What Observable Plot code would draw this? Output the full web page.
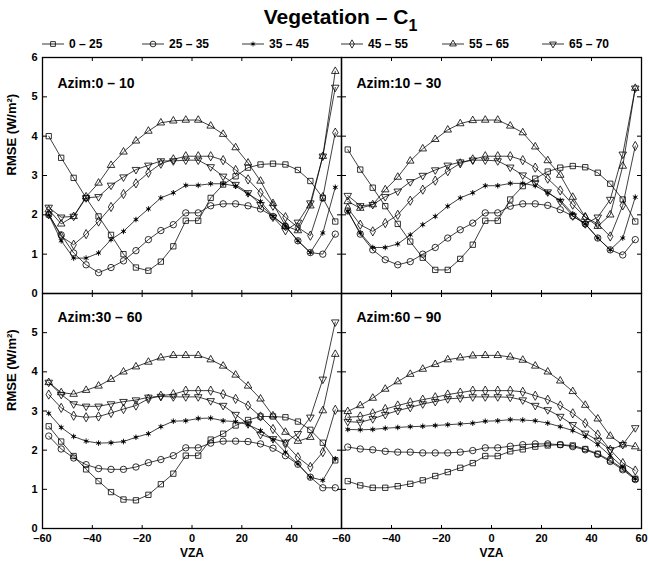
<!DOCTYPE html>
<html><head><meta charset="utf-8">
<script src="https://cdn.jsdelivr.net/npm/d3@7"></script>
<script src="https://cdn.jsdelivr.net/npm/@observablehq/plot@0.6"></script>
<style>
body{margin:0;background:#fff;font-family:"Liberation Sans",Arial,Helvetica,sans-serif;}
#chart{position:relative;width:649px;height:561px;overflow:hidden;}
#title{position:absolute;left:16px;width:649px;top:5px;text-align:center;font-weight:bold;font-size:21px;line-height:24px;}
#title sub{font-size:16px;vertical-align:-7px;line-height:0;}
.leg{position:absolute;top:37px;height:14px;display:flex;align-items:center;font-weight:bold;font-size:12px;white-space:nowrap;}
.leg svg{display:block;margin-right:5px;overflow:visible;}
.pan{position:absolute;}
.pan svg{overflow:visible;}
</style></head>
<body><div id="chart"><div id="title">Vegetation – C<sub>1</sub></div></div>
<script>
// ---- data ----
const vza = [-57.5,-52.5,-47.5,-42.5,-37.5,-32.5,-27.5,-22.5,-17.5,-12.5,-7.5,-2.5,2.5,7.5,12.5,17.5,22.5,27.5,32.5,37.5,42.5,47.5,52.5,57.5];
const seriesLabels = ["0 – 25","25 – 35","35 – 45","45 – 55","55 – 65","65 – 70"];
const panelLabels = ["Azim:0 – 10","Azim:10 – 30","Azim:30 – 60","Azim:60 – 90"];
const xTickValues = [-60,-40,-20,0,20,40,60];
const yTickValues = [0,1,2,3,4,5,6];

// Azim 0-10
const p1_sq = [4.0,3.45,2.94,2.43,1.96,1.49,1.0,0.66,0.58,0.81,1.2,1.85,1.85,2.43,2.77,2.98,3.2,3.28,3.3,3.28,3.14,2.86,2.43,1.83];
const p1_ci = [2.0,1.49,1.03,0.73,0.53,0.66,0.83,1.09,1.37,1.6,1.75,2.05,2.05,2.23,2.28,2.28,2.23,2.15,1.96,1.71,1.34,1.04,1.0,1.51];
const p1_as = [2.0,1.34,0.9,0.9,1.03,1.37,1.58,1.88,2.15,2.43,2.56,2.75,2.75,2.79,2.79,2.73,2.53,2.34,1.96,1.72,1.34,1.04,1.54,2.7];
const p1_di = [2.02,1.45,1.24,1.51,1.83,2.2,2.53,2.8,3.07,3.3,3.41,3.49,3.49,3.49,3.39,3.14,2.9,2.56,2.23,1.94,1.68,1.47,2.45,4.09];
const p1_tu = [2.13,1.77,1.96,2.46,2.81,3.26,3.6,3.88,4.13,4.34,4.39,4.41,4.41,4.26,4.05,3.71,3.32,2.86,2.29,1.72,1.6,2.23,3.49,5.65];
const p1_td = [2.19,1.94,1.96,2.43,2.46,2.75,2.96,3.15,3.26,3.37,3.37,3.39,3.39,3.22,2.98,2.77,2.56,2.26,1.94,1.6,1.81,2.3,3.49,5.24];
// Azim 10-30
const p2_sq = [3.66,3.15,2.69,2.22,1.77,1.32,0.91,0.6,0.6,0.88,1.24,1.85,1.85,2.39,2.73,2.92,3.1,3.2,3.24,3.21,3.07,2.79,2.39,1.83];
const p2_ci = [2.1,1.51,1.11,0.86,0.73,0.81,1.0,1.17,1.41,1.62,1.79,2.05,2.05,2.22,2.28,2.28,2.24,2.13,1.97,1.77,1.41,1.11,0.98,1.37];
const p2_as = [2.09,1.54,1.17,1.17,1.26,1.49,1.75,1.96,2.22,2.43,2.56,2.74,2.74,2.8,2.8,2.74,2.56,2.37,2.03,1.77,1.41,1.11,1.41,2.45];
const p2_di = [2.17,1.75,1.58,1.79,2.0,2.36,2.64,2.87,3.11,3.31,3.41,3.49,3.49,3.49,3.39,3.2,2.92,2.62,2.26,1.94,1.77,1.45,2.24,3.75];
const p2_tu = [2.34,2.17,2.26,2.64,2.96,3.37,3.68,3.92,4.16,4.32,4.4,4.41,4.41,4.26,4.09,3.73,3.38,3.01,2.45,1.94,1.71,2.0,3.24,5.22];
const p2_td = [2.49,2.23,2.26,2.46,2.6,2.84,3.0,3.14,3.26,3.34,3.39,3.39,3.37,3.21,3.01,2.81,2.58,2.34,1.97,1.77,1.94,2.39,3.54,5.22];
// Azim 30-60
const p3_sq = [2.61,2.22,1.85,1.51,1.21,0.93,0.74,0.72,0.86,1.13,1.4,1.86,1.86,2.27,2.42,2.63,2.77,2.86,2.86,2.84,2.73,2.52,2.19,1.74];
const p3_ci = [2.36,2.03,1.8,1.63,1.53,1.51,1.51,1.57,1.68,1.76,1.86,2.06,2.06,2.18,2.23,2.23,2.22,2.16,2.05,1.86,1.64,1.31,1.04,1.04];
const p3_as = [2.94,2.58,2.35,2.23,2.18,2.19,2.22,2.33,2.42,2.6,2.74,2.75,2.81,2.82,2.75,2.73,2.65,2.5,2.27,1.95,1.65,1.31,1.23,1.78];
const p3_di = [3.42,3.08,2.88,2.84,2.86,2.95,3.05,3.14,3.31,3.39,3.43,3.52,3.52,3.52,3.43,3.31,3.14,2.86,2.54,2.16,1.82,1.57,1.95,3.03];
const p3_tu = [3.73,3.47,3.43,3.53,3.64,3.81,4.0,4.13,4.25,4.36,4.42,4.42,4.42,4.31,4.15,3.92,3.64,3.31,2.88,2.46,2.23,2.33,3.01,4.45];
const p3_td = [3.73,3.42,3.18,3.12,3.12,3.18,3.24,3.28,3.35,3.37,3.36,3.36,3.36,3.26,3.14,2.91,2.67,2.4,2.29,2.2,2.42,2.84,3.81,5.27];
// Azim 60-90
const p4_sq = [1.21,1.1,1.04,1.04,1.08,1.14,1.23,1.34,1.44,1.55,1.67,1.85,1.85,1.97,2.02,2.09,2.12,2.14,2.12,2.03,1.91,1.74,1.53,1.27];
const p4_ci = [2.08,2.03,2.01,1.97,1.95,1.95,1.93,1.93,1.93,1.95,1.99,2.06,2.06,2.1,2.14,2.16,2.16,2.14,2.09,2.01,1.89,1.71,1.5,1.25];
const p4_as = [2.53,2.52,2.53,2.56,2.58,2.6,2.61,2.63,2.65,2.67,2.69,2.74,2.75,2.78,2.77,2.75,2.69,2.6,2.5,2.35,2.14,1.86,1.57,1.27];
const p4_di = [2.84,2.86,2.94,3.05,3.14,3.22,3.29,3.35,3.42,3.47,3.52,3.52,3.52,3.52,3.49,3.39,3.29,3.14,2.94,2.69,2.4,2.01,1.67,1.48];
const p4_tu = [2.99,3.14,3.33,3.56,3.75,3.94,4.07,4.19,4.31,4.36,4.41,4.42,4.42,4.38,4.3,4.15,4.0,3.77,3.5,3.15,2.8,2.36,2.14,2.09];
const p4_td = [2.73,2.71,2.8,2.91,3.01,3.09,3.18,3.24,3.31,3.33,3.36,3.36,3.36,3.35,3.28,3.14,3.03,2.86,2.65,2.43,2.25,2.01,2.14,2.57];

// ---- styles ----
const triangleDown = {
  draw(context, size) {
    const s3 = Math.sqrt(3);
    const y = Math.sqrt(size / (s3 * 3));
    context.moveTo(0, y * 2);
    context.lineTo(-s3 * y, -y);
    context.lineTo(s3 * y, -y);
    context.closePath();
  }
};
const markerStyles = [
  {symbol: "square", r: 3.0},
  {symbol: "circle", r: 3.2},
  {symbol: "asterisk", r: 2.6, star: true},
  {symbol: "diamond", r: 2.8},
  {symbol: "triangle", r: 2.8},
  {symbol: triangleDown, r: 2.8}
];
const fmt = d => d < 0 ? "\u2013" + Math.abs(d) : String(d);
const FONT = '"Liberation Sans", Arial, Helvetica, sans-serif';

const chart = document.getElementById("chart");

// ---- legend ----
const legendX = [42, 142, 242, 341, 442, 542];
seriesLabels.forEach((lab, i) => {
  const div = document.createElement("div");
  div.className = "leg";
  div.style.left = legendX[i] + "px";
  const st = markerStyles[i];
  const svg = d3.create("svg").attr("width", 22).attr("height", 12);
  svg.append("line").attr("x1", 0).attr("x2", 22).attr("y1", 6).attr("y2", 6).attr("stroke", "black").attr("stroke-width", 0.8);
  const type = typeof st.symbol === "string"
    ? {square: d3.symbolSquare, circle: d3.symbolCircle, asterisk: d3.symbolAsterisk, diamond: d3.symbolDiamond, triangle: d3.symbolTriangle}[st.symbol]
    : st.symbol;
  const size = Math.PI * st.r * st.r * 0.8;
  svg.append("path").attr("transform", "translate(11,6)").attr("d", d3.symbol(type, size)())
    .attr("fill", "none").attr("stroke", "black").attr("stroke-width", 0.8);
  if (st.star) svg.append("circle").attr("cx", 11).attr("cy", 6).attr("r", 1.1).attr("fill", "black");
  div.appendChild(svg.node());
  const span = document.createElement("span");
  span.textContent = lab;
  div.appendChild(span);
  chart.appendChild(div);
});

// ---- panels ----
const panels = [
  {label: panelLabels[0], series: [p1_sq,p1_ci,p1_as,p1_di,p1_tu,p1_td], left: 42, top: 57, w: 299, h: 236, yLab: [0,1,2,3,4,5,6], xLab: null, dy: 26},
  {label: panelLabels[1], series: [p2_sq,p2_ci,p2_as,p2_di,p2_tu,p2_td], left: 341, top: 57, w: 300, h: 236, yLab: null, xLab: null, dy: 26},
  {label: panelLabels[2], series: [p3_sq,p3_ci,p3_as,p3_di,p3_tu,p3_td], left: 42, top: 293, w: 299, h: 235, yLab: [0,1,2,3,4,5], xLab: [-60,-40,-20,0,20,40], dy: 24},
  {label: panelLabels[3], series: [p4_sq,p4_ci,p4_as,p4_di,p4_tu,p4_td], left: 341, top: 293, w: 300, h: 235, yLab: null, xLab: [-60,-40,-20,0,20,40,60], dy: 24}
];

panels.forEach(p => {
  const blank = () => "";
  const marks = [
    Plot.axisX({ticks: xTickValues, anchor: "top", frameAnchor: "bottom", tickSize: 4, tickFormat: blank, label: null}),
    Plot.axisX({ticks: xTickValues, anchor: "bottom", frameAnchor: "top", tickSize: 4, tickFormat: blank, label: null}),
    Plot.axisY({ticks: yTickValues, anchor: "right", frameAnchor: "left", tickSize: 4, tickFormat: blank, label: null}),
    Plot.axisY({ticks: yTickValues, anchor: "left", frameAnchor: "right", tickSize: 4, tickFormat: blank, label: null})
  ];
  p.series.forEach((arr, i) => {
    const rows = vza.map((x, j) => ({x, y: arr[j]}));
    const st = markerStyles[i];
    marks.push(Plot.line(rows, {x: "x", y: "y", stroke: "black", strokeWidth: 0.75}));
    if (st.star) {
      marks.push(Plot.dot(rows, {x: "x", y: "y", symbol: "asterisk", r: st.r, stroke: "black", strokeWidth: 0.9}));
      marks.push(Plot.dot(rows, {x: "x", y: "y", r: 1.2, fill: "black", stroke: "none"}));
    } else {
      marks.push(Plot.dot(rows, {x: "x", y: "y", symbol: st.symbol, r: st.r, fill: "none", stroke: "black", strokeWidth: 0.8}));
    }
  });
  if (p.yLab) {
    marks.push(Plot.axisY({ticks: p.yLab, anchor: "left", tickSize: 0, tickPadding: 5, tickFormat: fmt, fontSize: 11, fontWeight: "bold", label: null}));
    marks.push(Plot.text(["RMSE (W/m²)"], {frameAnchor: "left", dx: -31, rotate: -90, fontSize: 13, fontWeight: "bold", fill: "black"}));
  }
  if (p.xLab) {
    marks.push(Plot.axisX({ticks: p.xLab, anchor: "bottom", tickSize: 0, tickPadding: 6, tickFormat: fmt, fontSize: 11, fontWeight: "bold", label: null}));
    marks.push(Plot.text(["VZA"], {frameAnchor: "bottom", dy: 28, fontSize: 12, fontWeight: "bold", fill: "black"}));
  }
  marks.push(Plot.text([p.label], {frameAnchor: "top-left", dx: 15, dy: p.dy, textAnchor: "start", lineAnchor: "middle", fontSize: 14, fontWeight: "bold", fill: "black"}));
  marks.push(Plot.frame({stroke: "black", strokeWidth: 1.3}));

  const svg = Plot.plot({
    width: p.w, height: p.h,
    marginTop: 0, marginRight: 0, marginBottom: 0, marginLeft: 0,
    x: {domain: [-60, 60]},
    y: {domain: [0, 6]},
    style: {background: "transparent", overflow: "visible", fontFamily: FONT, color: "black"},
    marks
  });
  const div = document.createElement("div");
  div.className = "pan";
  div.style.left = p.left + "px";
  div.style.top = p.top + "px";
  div.appendChild(svg);
  chart.appendChild(div);
});
</script>
</body></html>
